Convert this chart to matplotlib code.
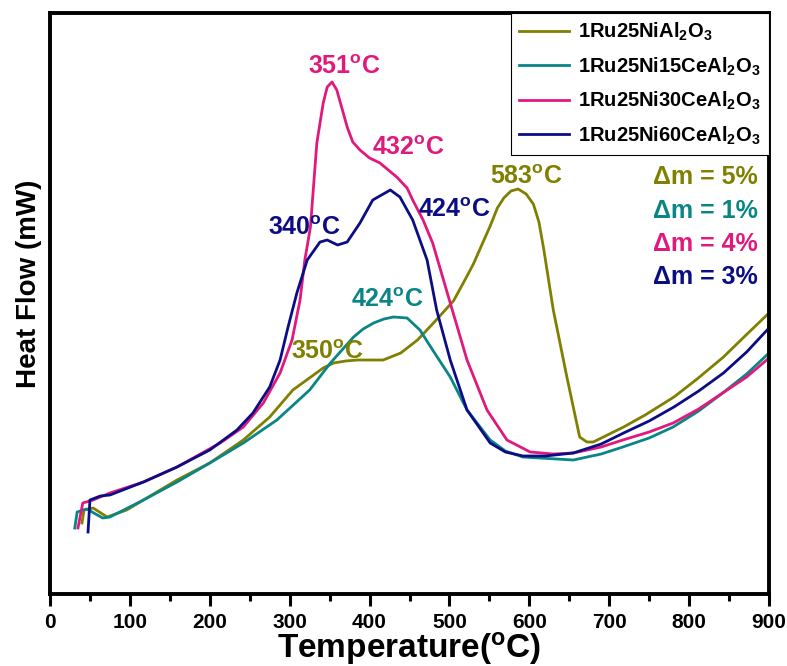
import matplotlib
matplotlib.use('Agg')
import matplotlib.pyplot as plt
from matplotlib.ticker import MultipleLocator

# values, y in arbitrary heat-flow units
t_ni = [40, 42.6, 54, 71.5, 96, 159, 200, 242, 275, 304, 342, 355, 370, 385, 400, 417,
        439, 460, 480, 505, 518, 530, 541, 551, 560, 568, 577, 586, 596, 605, 612, 618,
        630, 647, 663, 672, 680, 718, 745, 781, 810, 843, 870, 900]
hf_ni = [71, 84, 86, 77, 84, 114, 131, 154, 177, 204, 226, 231, 233, 234, 234, 234,
         241, 254, 271, 293, 312, 330, 350, 368, 386, 396, 403, 405, 400, 390, 372, 345,
         284, 217, 157, 152, 152, 167, 179, 197, 215, 237, 258, 281]

t_ce15 = [31, 34, 46, 66, 75, 117, 159, 200, 242, 284, 325, 351, 380, 392, 405, 418,
          430, 447, 463, 479, 501, 522, 551, 570, 592, 613, 655, 690, 717, 750, 780,
          812, 842, 872, 900]
hf_ce15 = [66, 82, 85, 76, 77, 94, 112, 131, 151, 174, 204, 231, 257, 265, 271, 275,
           277, 276, 264, 244, 217, 184, 154, 143, 137, 136, 134, 140, 147, 156, 167,
           183, 201, 220, 241]

t_ce30 = [35, 41, 54, 75, 117, 159, 213, 242, 267, 288, 303, 313, 319, 326, 334, 342,
          347, 353, 359, 365, 372, 379, 388, 400, 413, 434, 447, 454, 467, 479, 501,
          522, 547, 572, 601, 630, 655, 690, 717, 750, 780, 812, 842, 872, 900]
hf_ce30 = [66, 91, 94, 101, 112, 127, 151, 167, 191, 221, 254, 294, 334, 367, 451, 491,
           507, 512, 504, 487, 467, 452, 444, 436, 431, 417, 406, 394, 374, 351, 291,
           234, 184, 154, 142, 140, 141, 147, 154, 162, 171, 185, 201, 217, 236]

t_ce60 = [47.6, 50, 63, 75, 117, 159, 200, 234, 254, 275, 288, 298, 309, 322, 338, 347,
          360, 372, 388, 404, 426, 438, 454, 472, 484, 501, 522, 551, 570, 592, 620,
          655, 690, 718, 750, 781, 812, 843, 872, 900]
hf_ce60 = [62, 94, 98, 99, 112, 127, 144, 164, 181, 207, 234, 267, 301, 334, 352, 354,
           349, 352, 371, 394, 404, 397, 374, 334, 284, 234, 184, 151, 142, 138, 138,
           141, 150, 161, 173, 187, 203, 221, 242, 266]

labels = [r'1Ru25NiAl$_2$O$_3$', r'1Ru25Ni15CeAl$_2$O$_3$',
          r'1Ru25Ni30CeAl$_2$O$_3$', r'1Ru25Ni60CeAl$_2$O$_3$']
colors = ['#808000', '#0a8585', '#e0197d', '#0c0c84']
mass_loss = ['5%', '1%', '4%', '3%']

# peak labels: (T, y, text, series index)
peaks = [(368, 527, '351', 2), (448, 446, '432', 2), (318, 366, '340', 3),
         (506, 384, '424', 3), (422, 294, '424', 1), (347, 242, '350', 0),
         (596, 417, '583', 0)]

plt.rcParams['mathtext.default'] = 'regular'
plt.rcParams['font.family'] = 'Liberation Sans'
plt.rcParams['font.weight'] = 'bold'

fig = plt.figure(figsize=(7.87, 6.66), dpi=100)
ax = fig.add_axes([50 / 787, 72 / 666, 719 / 787, 581 / 666])

series = [(t_ni, hf_ni), (t_ce15, hf_ce15), (t_ce30, hf_ce30), (t_ce60, hf_ce60)]
for (t, hf), lab, c in zip(series, labels, colors):
    ax.plot(t, hf, color=c, lw=2.0, label=lab, solid_joinstyle='round')

for t, y, txt, i in peaks:
    ax.text(t, y, txt + r'$^{o}$C', color=colors[i], fontsize=18, fontweight='bold',
            ha='center', va='center')

for k, (m, c) in enumerate(zip(mass_loss, colors)):
    ax.text(886, 417 - 33.5 * k, '\u0394m = ' + m, color=c, fontsize=18,
            fontweight='bold', ha='right', va='center')

ax.set_xlim(0, 900)
ax.set_ylim(0, 581)
ax.xaxis.set_major_locator(MultipleLocator(100))
ax.xaxis.set_minor_locator(MultipleLocator(50))
ax.set_yticks([])
ax.tick_params(axis='x', which='major', direction='out', length=8.6, width=2.2,
               pad=5, labelsize=15)
ax.tick_params(axis='x', which='minor', direction='out', length=5, width=2.2)
for sp in ax.spines.values():
    sp.set_linewidth(2.8)

ax.set_xlabel(r'Temperature($^{o}$C)', fontweight='bold', fontsize=24)
ax.xaxis.label.set_va('baseline')
ax.xaxis.set_label_coords(0.5, (594 - 658) / 581)
ax.set_ylabel('Heat Flow (mW)', fontweight='bold', fontsize=20)
ax.yaxis.label.set_va('center')
ax.yaxis.set_label_coords(-21 / 719, (594 - 284) / 581)

leg = ax.legend(loc='upper right', bbox_to_anchor=(1, 1), borderaxespad=0,
                fancybox=False, edgecolor='black', framealpha=1,
                prop={'weight': 'bold', 'size': 14.5},
                handlelength=2.5, handletextpad=0.45, labelspacing=0.6, borderpad=0.4)
leg.get_frame().set_linewidth(0.8)

fig.savefig('out.png', dpi=100)
